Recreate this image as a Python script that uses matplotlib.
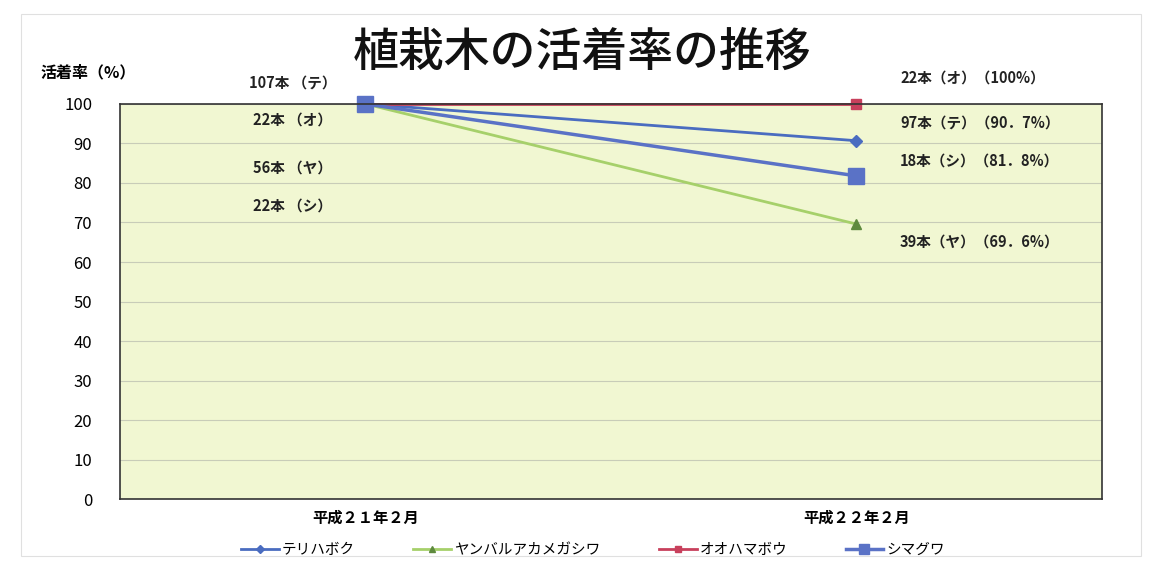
import matplotlib.pyplot as plt
from matplotlib.patches import Rectangle

plt.rcParams['font.family'] = ['Noto Sans CJK JP', 'DejaVu Sans']

# データ
categories = ['平成２１年２月', '平成２２年２月']
series_names = ['テリハボク', 'ヤンバルアカメガシワ', 'オオハマボウ', 'シマグワ']
teri = [100, 90.7]
yanbaru = [100, 69.6]
oohama = [100, 100]
shimagu = [100, 81.8]

left_labels = ['107本 （テ）', '22本 （オ）', '56本 （ヤ）', '22本 （シ）']
left_label_y = [105.3, 96.0, 83.8, 74.4]
right_labels = ['22本（オ）（100%）', '97本（テ）（90．7%）', '18本（シ）（81．8%）', '39本（ヤ）（69．6%）']
right_label_y = [106.6, 95.2, 85.8, 65.3]

fig = plt.figure(figsize=(11.49, 5.62), dpi=100)
ax = fig.add_axes([0.1044, 0.112, 0.8546, 0.703])
ax.set_facecolor('#F1F7D2')

x = list(range(len(categories)))
ax.plot(x, teri, '-', color='#4A6CC0', lw=2, marker='D', ms=6, clip_on=False, label=series_names[0])
ax.plot(x, yanbaru, '-', color='#A6D06A', lw=2, marker='^', ms=7, mfc='#5E8A3E', mec='#5E8A3E',
        clip_on=False, label=series_names[1])
ax.plot(x, oohama, '-', color='#C8405C', lw=2, marker='s', ms=7, clip_on=False, label=series_names[2])
ax.plot(x, shimagu, '-', color='#5A72C6', lw=2.5, marker='s', ms=11, clip_on=False, label=series_names[3])

ax.set_xlim(-0.5, 1.5)
ax.set_ylim(0, 100)
ax.set_yticks(range(0, 101, 10))
ax.set_xticks(x)
ax.set_xticklabels(categories, fontsize=11, fontweight='bold')
ax.tick_params(axis='y', labelsize=12, length=0, pad=20)
ax.tick_params(axis='x', length=0, pad=8)
ax.grid(axis='y', color='#C8CCB8', lw=0.8)
ax.set_axisbelow(True)
for s in ax.spines.values():
    s.set_color('#333333')
    s.set_linewidth(1.2)

for t, yy in zip(left_labels, left_label_y):
    ax.text(-0.148, yy, t, ha='center', va='center', fontsize=10.5, fontweight='bold', color='#222222',
            clip_on=False)
for t, yy in zip(right_labels, right_label_y):
    ax.text(1.089, yy, t, ha='left', va='center', fontsize=10.5, fontweight='bold', color='#222222',
            clip_on=False)

fig.text(0.507, 0.906, '植栽木の活着率の推移', ha='center', va='center', fontsize=33, fontweight='medium',
         color='#111111')
fig.text(0.035, 0.872, '活着率（%）', ha='left', va='center', fontsize=11.5, fontweight='bold')

leg = fig.legend(loc='center', bbox_to_anchor=(0.516, 0.022), ncol=4, frameon=False, fontsize=10.5,
                 handlelength=2.6, handletextpad=0.2, columnspacing=4, markerscale=0.7)

fig.patches.append(Rectangle((0.018, 0.01), 0.975, 0.965, transform=fig.transFigure,
                             fill=False, ec='#E0E0E0', lw=0.8))

fig.savefig('out.png', dpi=100)
